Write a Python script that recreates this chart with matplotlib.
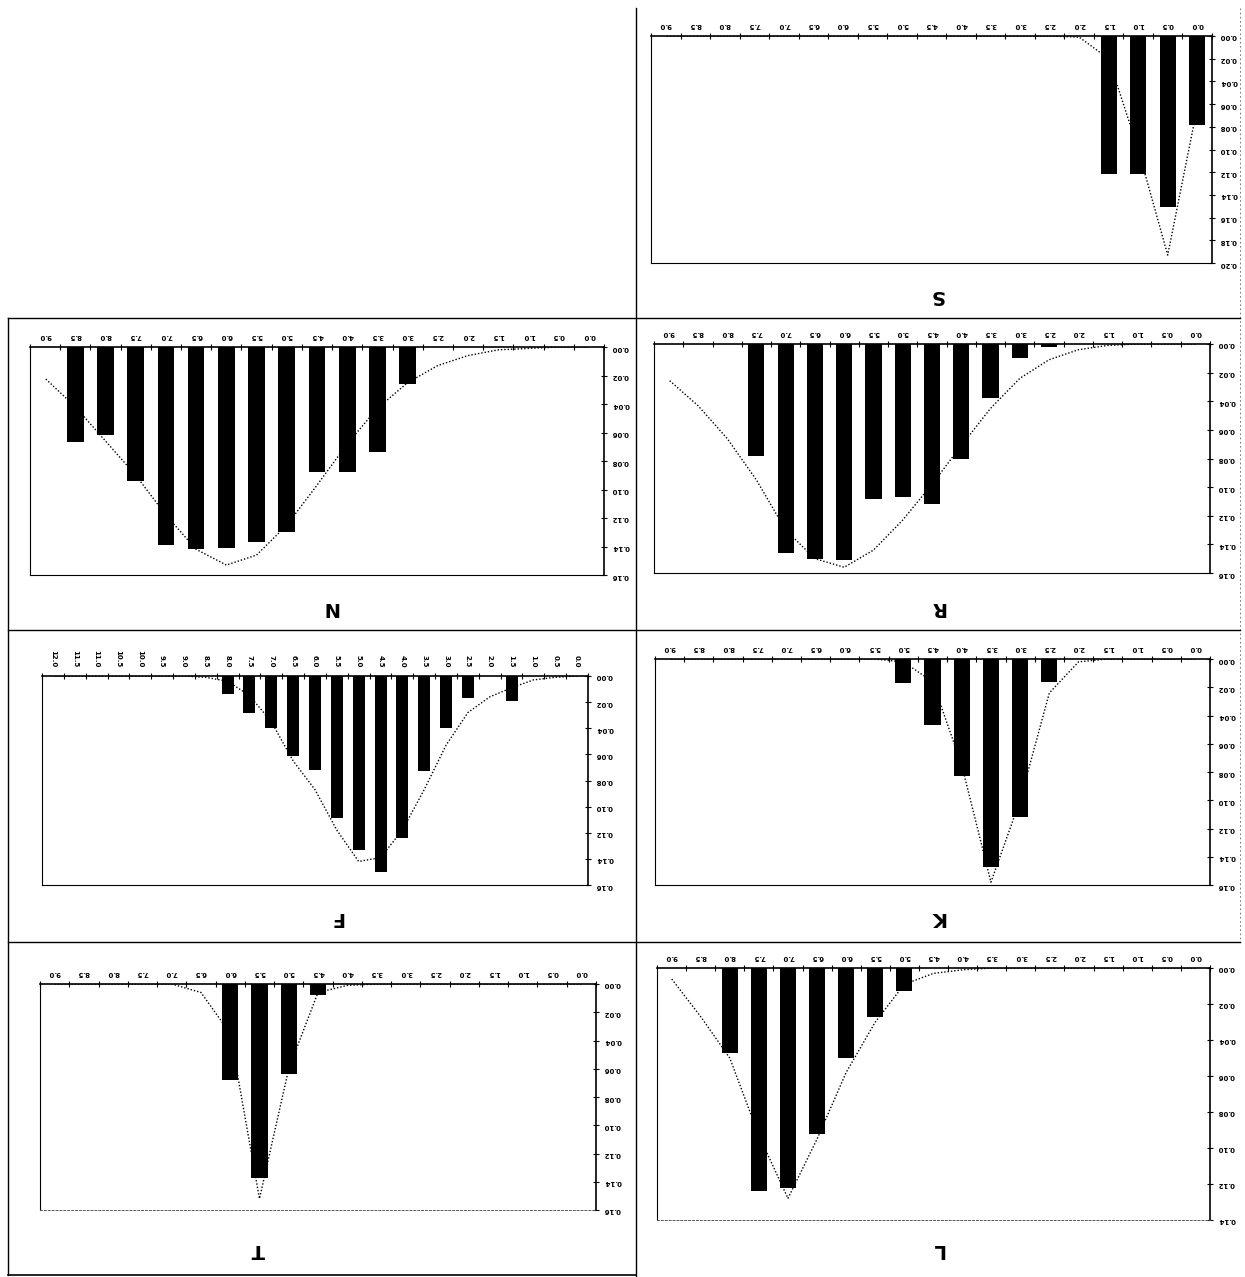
import matplotlib
matplotlib.use("Agg")
import matplotlib.pyplot as plt
from matplotlib.lines import Line2D
from matplotlib.ticker import MultipleLocator
import numpy as np

W, H = 1245, 1277

# class labels (mm), 19 classes for most sites, 25 for F
classes_19 = ["0.0", "0.5", "1.0", "1.5", "2.0", "2.5", "3.0", "3.5", "4.0", "4.5",
              "5.0", "5.5", "6.0", "6.5", "7.0", "7.5", "8.0", "8.5", "9.0"]
classes_25 = classes_19 + ["9.5", "10.0", "10.5", "11.0", "11.5", "12.0"]

# observed frequencies (bars) and fitted curve (dotted) per site
S_obs = [0.078, 0.151, 0.122, 0.122, 0, 0, 0, 0, 0, 0, 0, 0, 0, 0, 0, 0, 0, 0, 0]
S_fit = [0.063, 0.193, 0.100, 0.020, 0.001, 0, 0, 0, 0, 0, 0, 0, 0, 0, 0, 0, 0, 0, 0]

N_obs = [0, 0, 0, 0, 0, 0, 0.026, 0.074, 0.088, 0.088, 0.130, 0.137, 0.141, 0.142,
         0.139, 0.094, 0.062, 0.067, 0]
N_fit = [0, 0, 0.001, 0.002, 0.006, 0.013, 0.025, 0.043, 0.068, 0.097, 0.125, 0.146,
         0.153, 0.142, 0.118, 0.090, 0.066, 0.042, 0.022]

R_obs = [0, 0, 0, 0, 0, 0.002, 0.010, 0.038, 0.080, 0.112, 0.107, 0.108, 0.151, 0.150,
         0.146, 0.078, 0, 0, 0]
R_fit = [0, 0, 0, 0.001, 0.004, 0.011, 0.024, 0.045, 0.071, 0.098, 0.123, 0.144, 0.156,
         0.150, 0.130, 0.095, 0.066, 0.043, 0.025]

F_obs = [0, 0, 0, 0.019, 0, 0.017, 0.040, 0.073, 0.124, 0.150, 0.133, 0.109, 0.072,
         0.061, 0.040, 0.028, 0.014, 0, 0, 0, 0, 0, 0, 0, 0]
F_fit = [0, 0.001, 0.003, 0.009, 0.016, 0.028, 0.053, 0.087, 0.118, 0.139, 0.142, 0.118,
         0.087, 0.065, 0.035, 0.015, 0.004, 0.001, 0, 0, 0, 0, 0, 0, 0]

K_obs = [0, 0, 0, 0, 0, 0.016, 0.112, 0.147, 0.083, 0.047, 0.017, 0, 0, 0, 0, 0, 0, 0, 0]
K_fit = [0, 0, 0, 0, 0.002, 0.024, 0.100, 0.158, 0.075, 0.016, 0.002, 0, 0, 0, 0, 0, 0, 0, 0]

T_obs = [0, 0, 0, 0, 0, 0, 0, 0, 0, 0.008, 0.064, 0.137, 0.068, 0, 0, 0, 0, 0, 0]
T_fit = [0, 0, 0, 0, 0, 0, 0, 0, 0.001, 0.006, 0.060, 0.152, 0.035, 0.006, 0, 0, 0, 0, 0]

L_obs = [0, 0, 0, 0, 0, 0, 0, 0, 0, 0, 0.013, 0.027, 0.050, 0.092, 0.122, 0.124, 0.047, 0, 0]
L_fit = [0, 0, 0, 0, 0, 0, 0, 0, 0.001, 0.003, 0.009, 0.030, 0.058, 0.095, 0.128, 0.093,
         0.050, 0.027, 0.006]

# name, box in pixels (left, top, right, bottom), y max, title position, data
panels = [
    ("S", (651, 36, 1212, 263), 0.20, (937, 295), classes_19, S_obs, S_fit),
    ("N", (30, 347, 604, 575), 0.16, (330, 607), classes_19, N_obs, N_fit),
    ("R", (654, 344, 1210, 573), 0.16, (938, 607), classes_19, R_obs, R_fit),
    ("F", (42, 676, 588, 885), 0.16, (337, 917), classes_25, F_obs, F_fit),
    ("K", (655, 659, 1210, 885), 0.16, (938, 917), classes_19, K_obs, K_fit),
    ("T", (40, 984, 596, 1210), 0.16, (258, 1250), classes_19, T_obs, T_fit),
    ("L", (657, 968, 1210, 1220), 0.14, (938, 1250), classes_19, L_obs, L_fit),
]

fig = plt.figure(figsize=(W / 100, H / 100), dpi=100)
fig.patch.set_facecolor("white")


def px_rect(x0, y0, x1, y1):
    return [x0 / W, 1 - y1 / H, (x1 - x0) / W, (y1 - y0) / H]


def frame_line(x0, y0, x1, y1, **kw):
    fig.add_artist(Line2D([x0 / W, x1 / W], [1 - y0 / H, 1 - y1 / H],
                          transform=fig.transFigure, color="black", **kw))


for name, box, ymax, tpos, labels, obs, fit in panels:
    n = len(labels)
    idx = np.arange(n)
    ax = fig.add_axes(px_rect(*box))
    ax.bar(idx, obs, width=0.55, color="black", zorder=2)
    ax.plot(idx, fit, color="black", lw=1.0, ls=(0, (1, 1.4)), zorder=3)

    # the page is printed upside down: flip both axes and the text
    ax.set_xlim(n - 0.5, -0.5)
    ax.set_ylim(ymax, 0)
    ax.xaxis.tick_top()
    ax.yaxis.tick_right()
    ax.set_xticks(idx)
    ax.set_xticks(np.arange(n + 1) - 0.5, minor=True)
    xrot = 270 if n > 19 else 180
    ax.set_xticklabels(labels, rotation=xrot, fontsize=5, fontweight="bold")
    ax.yaxis.set_major_locator(MultipleLocator(0.02))
    ax.yaxis.set_major_formatter(lambda v, p: f"{v:.2f}")
    for t in ax.get_yticklabels():
        t.set_rotation(180)
    ax.tick_params(axis="y", labelsize=5, direction="inout", length=5, width=0.8, pad=3)
    for t in ax.get_yticklabels():
        t.set_fontweight("bold")
    ax.tick_params(axis="x", which="major", length=0, pad=6)
    ax.tick_params(axis="x", which="minor", direction="inout", length=4, width=0.8)

    for side in ("top", "right"):
        ax.spines[side].set_linewidth(1.2)
    ax.spines["left"].set_linewidth(0.8)
    if name in ("T", "L"):
        ax.spines["bottom"].set_linestyle((0, (2, 2)))
        ax.spines["bottom"].set_linewidth(0.7)
        ax.spines["bottom"].set_color("0.35")
    else:
        ax.spines["bottom"].set_linewidth(0.8)

    fig.text(tpos[0] / W, 1 - tpos[1] / H, name, rotation=180, fontsize=14,
             fontweight="bold", ha="center", va="center")

# panel borders
frame_line(636, 8, 636, 1276, lw=1.0)
for y in (318, 630, 942):
    frame_line(8, y, 1240, y, lw=1.0)
frame_line(8, 318, 8, 1275, lw=1.0)
frame_line(8, 1275, 636, 1275, lw=1.2)
frame_line(1240, 8, 1240, 942, lw=0.6, ls=(0, (2, 3)), alpha=0.6)

fig.savefig("out.png", dpi=100, facecolor="white")
